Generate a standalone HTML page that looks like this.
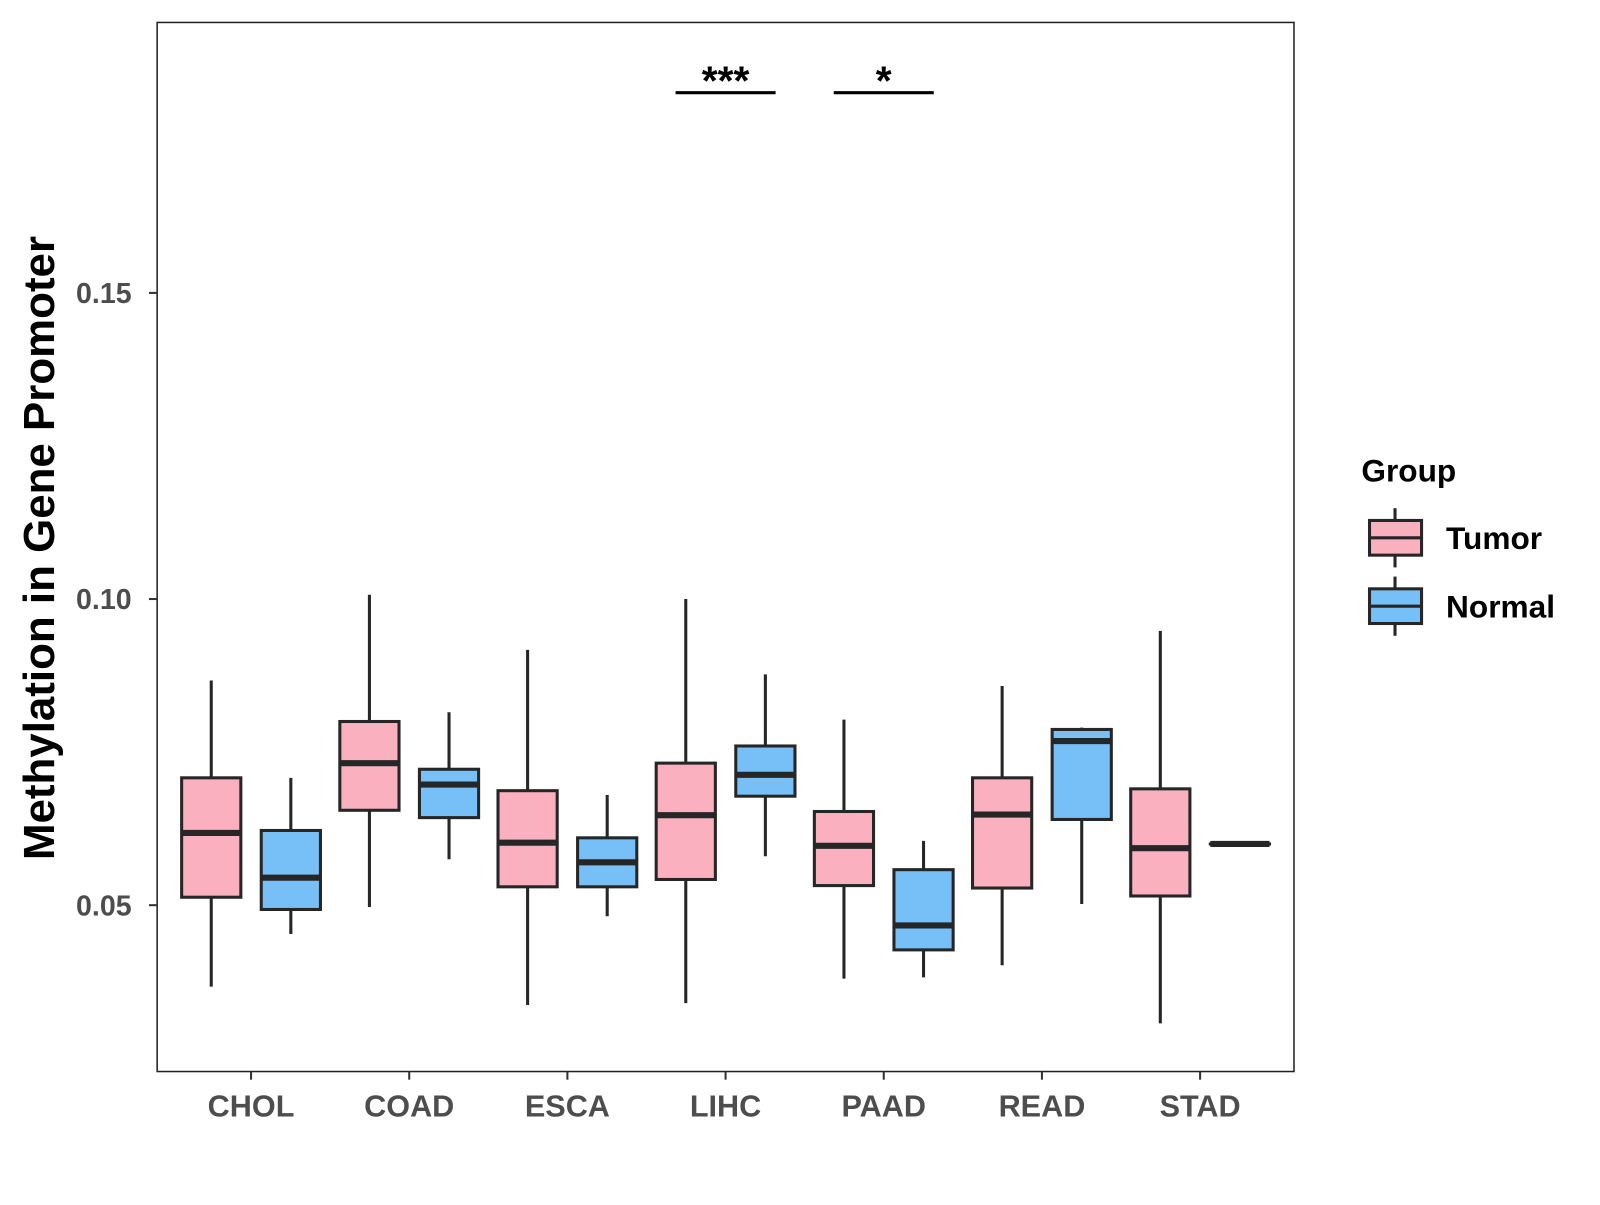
<!DOCTYPE html>
<html><head><meta charset="utf-8"><style>
body{margin:0;background:#fff;width:1600px;height:1200px;overflow:hidden}
svg{font-family:"Liberation Sans",sans-serif;font-weight:bold}
</style></head><body>
<svg width="1600" height="1200"><g id="chart" transform="scale(1.0205)"></g></svg>
<script>
const categories=["CHOL","COAD","ESCA","LIHC","PAAD","READ","STAD"];
// [low, q1, median, q3, high]
const tumorStats=[[0.0367,0.0513,0.0618,0.0708,0.0867],[0.0497,0.0655,0.0732,0.0800,0.1007],[0.0337,0.0530,0.0602,0.0687,0.0917],[0.0340,0.0542,0.0647,0.0732,0.1000],[0.0380,0.0532,0.0597,0.0653,0.0803],[0.0402,0.0528,0.0648,0.0708,0.0858],[0.0307,0.0515,0.0593,0.0690,0.0948]];
const normalStats=[[0.0453,0.0493,0.0545,0.0622,0.0708],[0.0575,0.0643,0.0697,0.0722,0.0815],[0.0482,0.0530,0.0570,0.0610,0.0680],[0.0580,0.0678,0.0713,0.0760,0.0877],[0.0382,0.0427,0.0467,0.0558,0.0605],[0.0502,0.0640,0.0768,0.0787,0.0790],[0.0600,0.0600,0.0600,0.0600,0.0600]];
const yTicks=[0.05,0.10,0.15];
const yTickLabels=["0.05","0.10","0.15"];
const sigLabels=[{cat:"LIHC",text:"***",value:0.1827},{cat:"PAAD",text:"*",value:0.1827}];

const NS="http://www.w3.org/2000/svg";
const svg=document.getElementById("chart");
const L=154,R=1268,T=22,B=1050;
function y(v){return 887-(v-0.05)*6000;}
function x(i){return 246+i*155;}
function mk(t,a,parent){const e=document.createElementNS(NS,t);for(const k in a)e.setAttribute(k,a[k]);(parent||svg).appendChild(e);return e;}

const panel=mk("rect",{x:L,y:T,width:R-L,height:B-T,fill:"#fff",stroke:"#222","stroke-width":1.5});



yTicks.forEach((t,i)=>{
  const tk=mk("line",{x1:L-8,x2:L,y1:y(t),y2:y(t),stroke:"#333","stroke-width":2});
  
  
  const lb=mk("text",{x:L-25,y:y(t)+10,"text-anchor":"end","font-size":28,fill:"#4d4d4d"});
  lb.textContent=yTickLabels[i];
  
  
});
categories.forEach((c,i)=>{
  const tk=mk("line",{x1:x(i),x2:x(i),y1:B,y2:B+8,stroke:"#333","stroke-width":2});
  
  
  const lb=mk("text",{x:x(i),y:B+44,"text-anchor":"middle","font-size":30,fill:"#4d4d4d"});
  lb.textContent=c;
  
  
});

function drawBox(s,cx,fill,name){
  const g=mk("g",{});
  
  
  mk("line",{x1:cx,x2:cx,y1:y(s[4]),y2:y(s[0]),stroke:"#262626","stroke-width":3},g);
  mk("rect",{x:cx-29,y:y(s[3]),width:58,height:Math.max(y(s[1])-y(s[3]),0.01),fill:fill,stroke:"#262626","stroke-width":3},g);
  mk("line",{x1:cx-29,x2:cx+29,y1:y(s[2]),y2:y(s[2]),stroke:"#262626","stroke-width":6},g);
}
categories.forEach((c,i)=>{
  drawBox(tumorStats[i],x(i)-39,"#fbb0c0","box-tumor-"+c.toLowerCase());
  drawBox(normalStats[i],x(i)+39,"#77c0f7","box-normal-"+c.toLowerCase());
});
sigLabels.forEach(s=>{
  const i=categories.indexOf(s.cat);
  const ln=mk("line",{x1:x(i)-49,x2:x(i)+49,y1:y(s.value),y2:y(s.value),stroke:"#000","stroke-width":3});
  
  
  const t=mk("text",{x:x(i),y:y(s.value)+2,"text-anchor":"middle","font-size":40,fill:"#000"});
  t.textContent=s.text;
  
  
});

const yt=mk("text",{x:0,y:0,transform:"translate(53,537) rotate(-90)","text-anchor":"middle","font-size":43,fill:"#000"});
yt.textContent="Methylation in Gene Promoter";



const lt=mk("text",{x:1334,y:472,"font-size":31,fill:"#000"});
lt.textContent="Group";


[["Tumor","#fbb0c0",527],["Normal","#77c0f7",594]].forEach(([n,f,cy])=>{
  const g=mk("g",{});
  
  
  mk("line",{x1:1367,x2:1367,y1:cy-29,y2:cy+29,stroke:"#262626","stroke-width":3},g);
  mk("rect",{x:1342,y:cy-17,width:51,height:34,fill:f,stroke:"#262626","stroke-width":3},g);
  mk("line",{x1:1342,x2:1393,y1:cy,y2:cy,stroke:"#262626","stroke-width":3},g);
  const t=mk("text",{x:1417,y:cy+11,"font-size":31,fill:"#000"},g);
  t.textContent=n;
});
</script>
</body></html>
